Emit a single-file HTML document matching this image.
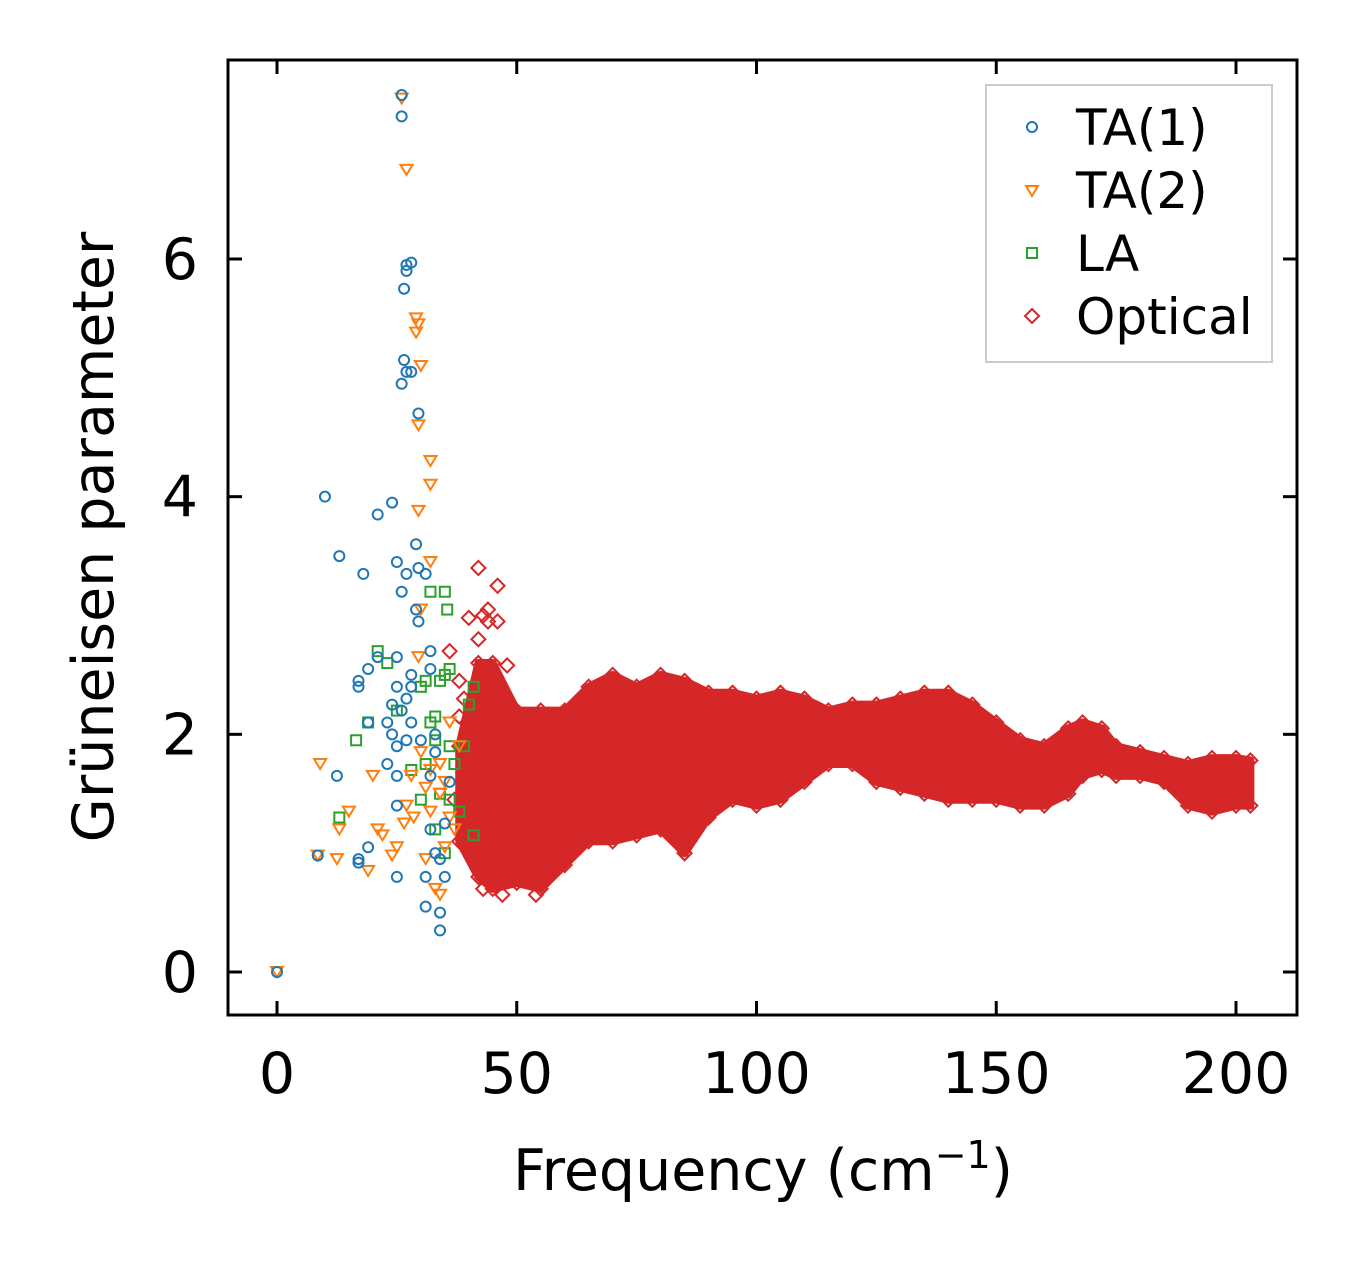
<!DOCTYPE html>
<html><head><meta charset="utf-8"><style>
html,body{margin:0;padding:0;background:#fff;}
svg{display:block;font-family:"DejaVu Sans","Liberation Sans",sans-serif;}
</style></head><body>
<svg id="chart" width="1357" height="1264" viewBox="0 0 1357 1264" xmlns="http://www.w3.org/2000/svg">
<rect width="1357" height="1264" fill="#fff"/>
<g id="plot"></g>
<rect x="228" y="60" width="1069" height="955" fill="none" stroke="#000" stroke-width="3"/>
<g id="ticks"></g>
<text x="763" y="1190" font-size="57" text-anchor="middle">Frequency (cm<tspan font-size="38" dy="-22">−1</tspan><tspan dy="22">)</tspan></text>
<text transform="translate(113,537) rotate(-90)" font-size="57" text-anchor="middle">Grüneisen parameter</text>
<g>
<rect x="986" y="85" width="286" height="277" fill="#fff" stroke="#ccc" stroke-width="2"/>
<circle cx="1032" cy="127" r="5" fill="none" stroke="#1f77b4" stroke-width="2"/>
<text x="1076" y="145" font-size="50">TA(1)</text>
<path d="M1026,186 L1038,186 L1032,196 Z" fill="none" stroke="#ff7f0e" stroke-width="2"/>
<text x="1076" y="208" font-size="50">TA(2)</text>
<rect x="1027" y="248" width="10" height="10" fill="none" stroke="#2ca02c" stroke-width="2"/>
<text x="1076" y="271" font-size="50">LA</text>
<path d="M1032,309 L1039,316 L1032,323 L1025,316 Z" fill="none" stroke="#d62728" stroke-width="2"/>
<text x="1076" y="334" font-size="50">Optical</text>
</g>
</svg>
<script>
const xTicks=[0,50,100,150,200];
const yTicks=[0,2,4,6];
const ta1=[[0,0],[8.5,0.98],[10,4.0],[12.5,1.65],[13,3.5],[17,2.45],[17,2.4],[17,0.95],[17,0.92],[18,3.35],[19,2.55],[19,2.1],[19,1.05],[21,3.85],[21,2.65],[23,2.1],[23,1.75],[24,3.95],[24,2.25],[24,2.0],[25,0.8],[25,1.4],[25,1.65],[25,1.9],[25,2.4],[25,2.65],[25,3.45],[26,3.2],[26,2.2],[26,4.95],[26,7.2],[26,7.38],[26.5,5.75],[26.5,5.15],[27,5.95],[27,5.9],[27,5.05],[27,3.35],[27,2.3],[27,1.95],[28,5.97],[28,5.05],[28,2.5],[28,2.4],[28,2.1],[29,3.05],[29,3.6],[29.5,4.7],[29.5,3.4],[29.5,2.95],[30,1.95],[31,3.35],[31,0.8],[31,0.55],[32,2.7],[32,2.55],[32,1.65],[32,1.2],[33,2.0],[33,1.0],[33,1.85],[34,0.35],[34,0.5],[34,0.95],[35,0.8],[35,1.25],[36,1.6]];
const ta2=[[0,0],[9,1.75],[8.5,0.98],[12.5,0.95],[13,1.2],[15,1.35],[19,0.85],[20,1.65],[21,1.2],[22,1.15],[24,0.98],[25,1.05],[26,7.35],[26.5,1.25],[27,6.75],[27,1.4],[28,1.65],[28.5,1.3],[29,5.5],[29,5.38],[29.5,5.45],[29.5,4.6],[30,5.1],[29.5,3.88],[30,3.05],[29.5,2.65],[30,1.85],[31,1.55],[31,0.95],[32,4.3],[32,4.1],[32,3.45],[32,1.35],[32,1.7],[33,0.7],[34,1.75],[34,0.65],[34,1.5],[35,1.6],[35,1.05],[36,1.3],[36,2.1],[37,1.2],[38,1.9]];
const la=[[13,1.3],[16.5,1.95],[19,2.1],[21,2.7],[23,2.6],[25,2.2],[28,1.7],[30,2.4],[31,2.45],[31,1.75],[32,3.2],[32,2.1],[33,2.15],[33,1.95],[34,2.45],[35,3.2],[35,2.5],[35.5,3.05],[36,2.55],[36,1.9],[36,1.45],[37,1.75],[38,1.35],[39,1.9],[40,2.25],[41,2.4],[41,1.15],[35,1.0],[34,1.5],[30,1.45],[33,1.2]];
const optFreq=[38,42,45,50,55,60,65,70,75,80,85,90,95,100,105,110,115,120,125,130,135,140,145,150,155,160,165,168,172,175,180,185,190,195,200,203];
const optLow=[1.1,0.8,0.7,0.75,0.7,0.9,1.1,1.1,1.15,1.2,1.0,1.3,1.45,1.4,1.45,1.6,1.75,1.75,1.6,1.55,1.5,1.45,1.45,1.45,1.4,1.4,1.5,1.65,1.7,1.65,1.65,1.6,1.4,1.35,1.4,1.4];
const optHigh=[1.9,2.6,2.6,2.2,2.2,2.2,2.4,2.5,2.4,2.5,2.45,2.35,2.35,2.3,2.35,2.3,2.2,2.25,2.25,2.3,2.35,2.35,2.25,2.1,1.95,1.9,2.05,2.1,2.05,1.9,1.85,1.8,1.75,1.8,1.8,1.78];
const optOut=[[42,3.4],[43,3.0],[44,2.95],[44,3.05],[46,3.25],[46,2.95],[42,2.8],[40,2.98],[48,2.58],[47,0.65],[43,0.7],[54,0.65],[85,1.0],[86,1.1],[37,1.45],[38,2.45],[39,2.3],[36,2.7],[38,2.15],[40,1.7],[39,1.2]];

const NS="http://www.w3.org/2000/svg";
const X=v=>277+v*(1236-277)/200;
const Y=v=>972-v*(972-259)/6;
const plot=document.getElementById('plot');
const ticks=document.getElementById('ticks');
function mk(tag,attrs,parent){const e=document.createElementNS(NS,tag);for(const k in attrs)e.setAttribute(k,attrs[k]);parent.appendChild(e);return e;}

let pts=optFreq.map((f,i)=>X(f)+','+Y(optHigh[i]));
for(let i=optFreq.length-1;i>=0;i--)pts.push(X(optFreq[i])+','+Y(optLow[i]));
const band=mk('polygon',{points:pts.join(' '),fill:'#d62728',stroke:'#d62728','stroke-width':8,'stroke-linejoin':'round'},plot);



function diamond(x,y){const p=mk('path',{d:`M${x},${y-7} L${x+7},${y} L${x},${y+7} L${x-7},${y} Z`,fill:'none',stroke:'#d62728','stroke-width':2},plot);

}
optFreq.forEach((f,i)=>{diamond(X(f),Y(optHigh[i]));diamond(X(f),Y(optLow[i]));});
optOut.forEach(d=>diamond(X(d[0]),Y(d[1])));

la.forEach(d=>{const r=mk('rect',{x:X(d[0])-5,y:Y(d[1])-5,width:10,height:10,fill:'none',stroke:'#2ca02c','stroke-width':2},plot);

});
ta2.forEach(d=>{const x=X(d[0]),y=Y(d[1]);const p=mk('path',{d:`M${x-6},${y-5} L${x+6},${y-5} L${x},${y+5} Z`,fill:'none',stroke:'#ff7f0e','stroke-width':2},plot);

});
ta1.forEach(d=>{const c=mk('circle',{cx:X(d[0]),cy:Y(d[1]),r:5,fill:'none',stroke:'#1f77b4','stroke-width':2},plot);

});

xTicks.forEach(t=>{const x=X(t);
mk('line',{x1:x,x2:x,y1:1015,y2:1001,stroke:'#000','stroke-width':3},ticks);
mk('line',{x1:x,x2:x,y1:60,y2:74,stroke:'#000','stroke-width':3},ticks);
const tx=mk('text',{x:x,y:1093,'font-size':57,'text-anchor':'middle'},ticks);tx.textContent=t;

});
yTicks.forEach(t=>{const y=Y(t);
mk('line',{x1:228,x2:242,y1:y,y2:y,stroke:'#000','stroke-width':3},ticks);
mk('line',{x1:1297,x2:1283,y1:y,y2:y,stroke:'#000','stroke-width':3},ticks);
const tx=mk('text',{x:198,y:y+20,'font-size':57,'text-anchor':'end'},ticks);tx.textContent=t;

});
</script>
</body></html>
